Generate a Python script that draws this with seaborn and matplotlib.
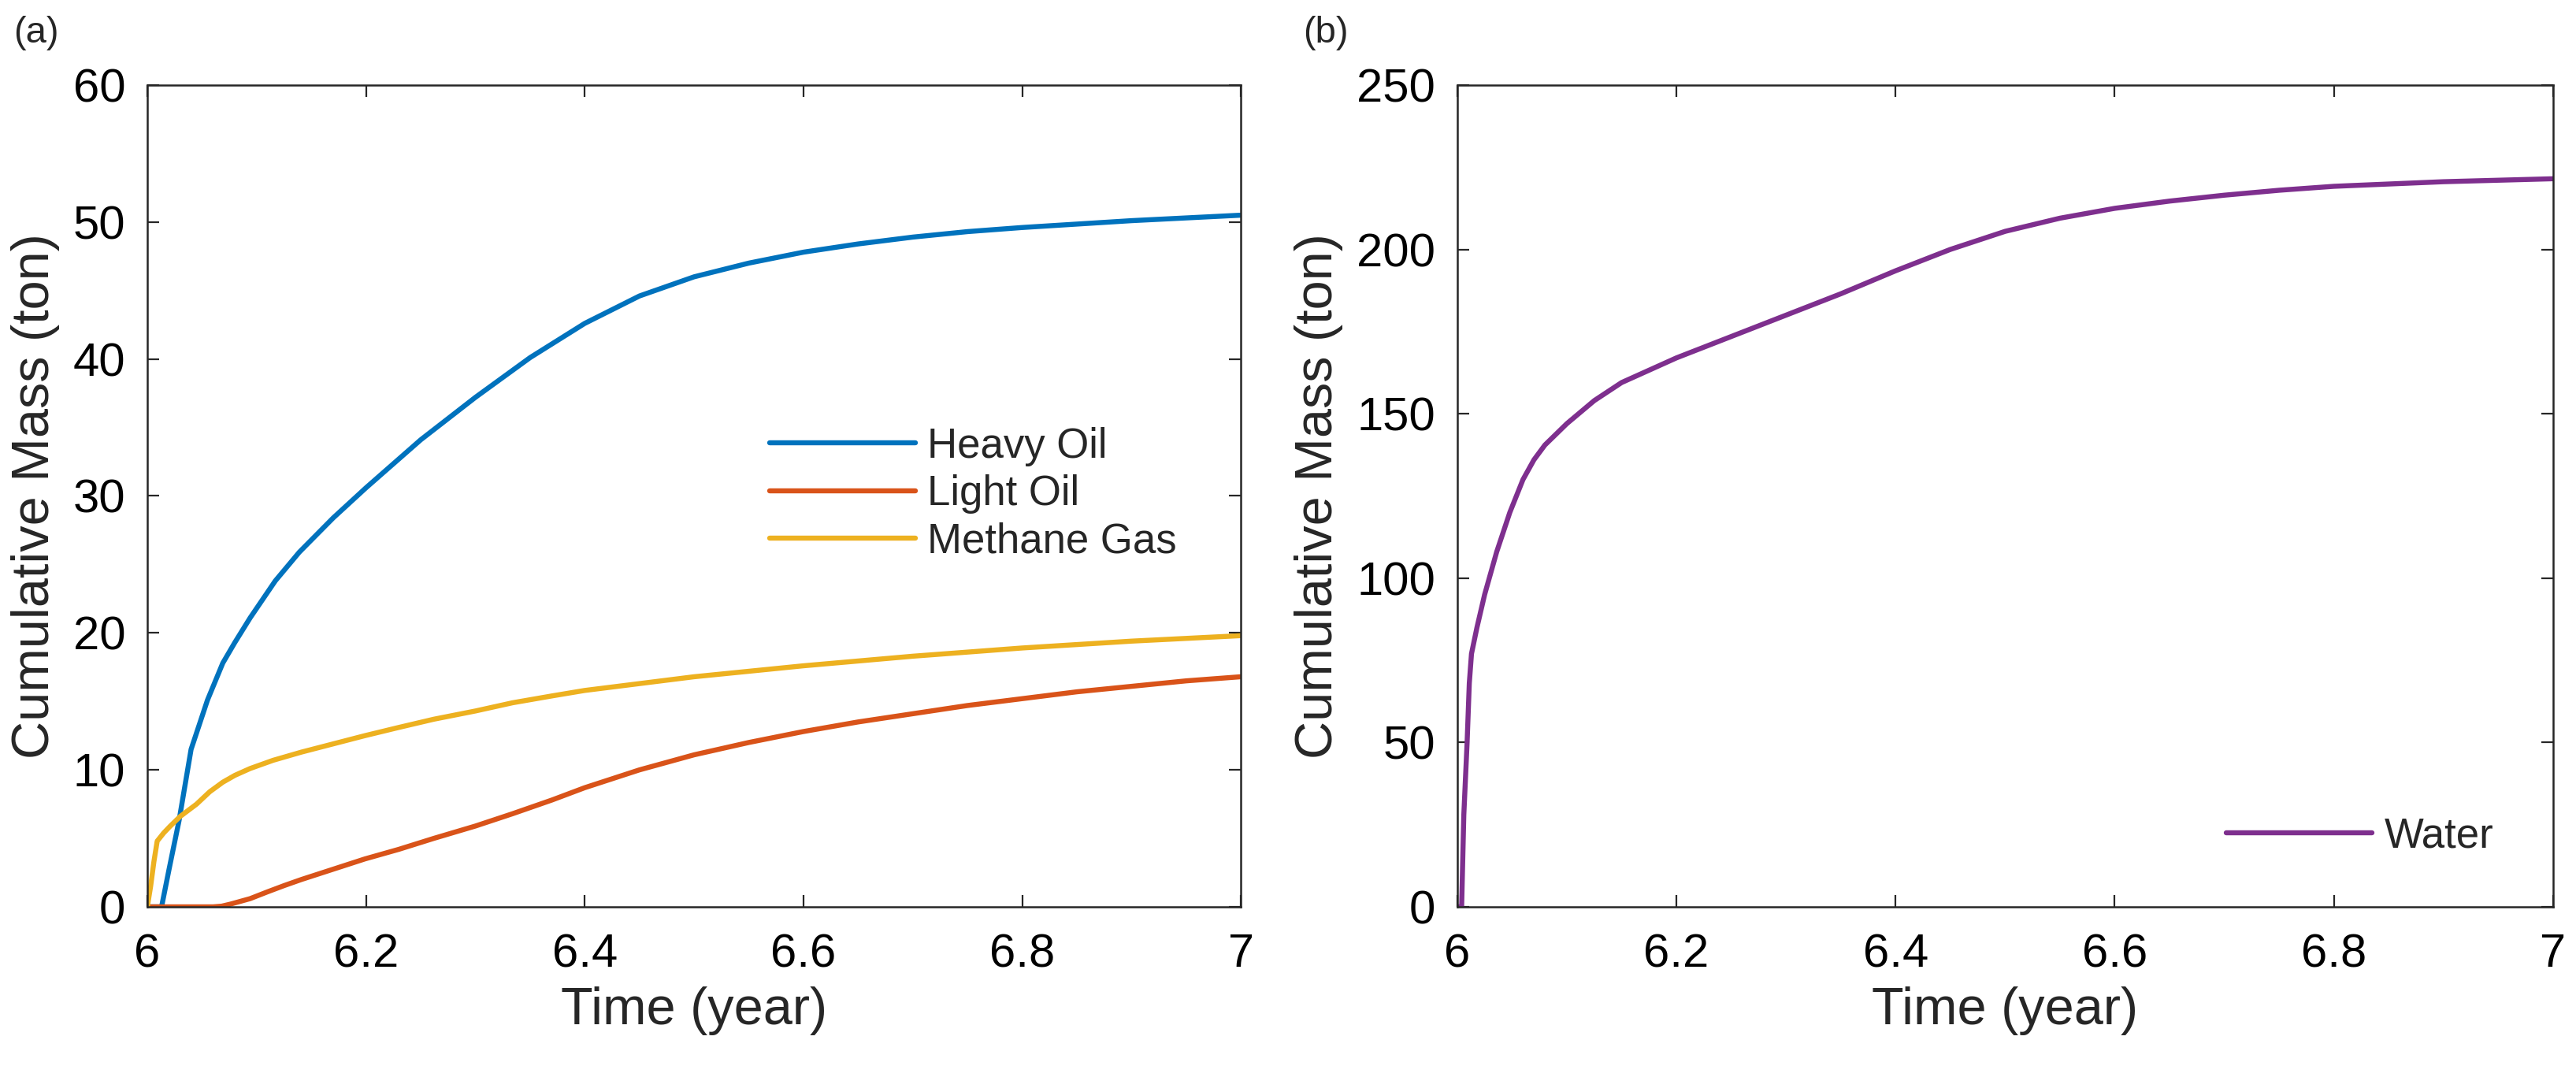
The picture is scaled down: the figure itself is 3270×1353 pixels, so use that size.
import numpy as np
import pandas as pd
import seaborn as sns
import matplotlib
matplotlib.use("Agg")
import matplotlib.pyplot as plt

# ---- data (time in years, cumulative mass in tons) ----
heavy_t = [6.0, 6.013, 6.02, 6.029, 6.04, 6.055, 6.069, 6.08, 6.094, 6.117, 6.139, 6.17, 6.2,
           6.25, 6.3, 6.35, 6.4, 6.45, 6.5, 6.55, 6.6, 6.65, 6.7, 6.75, 6.8, 6.9, 7.0]
heavy_m = [0.0, 0.0, 2.8, 6.3, 11.5, 15.1, 17.8, 19.3, 21.1, 23.8, 25.9, 28.4, 30.6,
           34.1, 37.2, 40.1, 42.6, 44.6, 46.0, 47.0, 47.8, 48.4, 48.9, 49.3, 49.6, 50.1, 50.5]

light_t = [6.0, 6.06, 6.068, 6.076, 6.085, 6.094, 6.11, 6.125, 6.141, 6.17, 6.199, 6.23,
           6.262, 6.3, 6.334, 6.37, 6.4, 6.45, 6.5, 6.55, 6.6, 6.65, 6.7, 6.75, 6.8,
           6.85, 6.9, 6.95, 7.0]
light_m = [0.0, 0.0, 0.05, 0.2, 0.4, 0.6, 1.1, 1.55, 2.0, 2.75, 3.5, 4.2,
           5.0, 5.9, 6.8, 7.8, 8.7, 10.0, 11.1, 12.0, 12.8, 13.5, 14.1, 14.7, 15.2,
           15.7, 16.1, 16.5, 16.8]

methane_t = [6.0, 6.003, 6.006, 6.009, 6.015, 6.021, 6.03, 6.045, 6.057, 6.069, 6.08, 6.094,
             6.115, 6.141, 6.17, 6.199, 6.23, 6.262, 6.3, 6.334, 6.37, 6.4, 6.45, 6.5,
             6.55, 6.6, 6.65, 6.7, 6.75, 6.8, 6.85, 6.9, 6.95, 7.0]
methane_m = [0.0, 1.5, 3.3, 4.8, 5.4, 5.9, 6.6, 7.5, 8.4, 9.1, 9.6, 10.1,
             10.7, 11.3, 11.9, 12.5, 13.1, 13.7, 14.3, 14.9, 15.4, 15.8, 16.3, 16.8,
             17.2, 17.6, 17.95, 18.3, 18.6, 18.9, 19.15, 19.4, 19.6, 19.8]

water_t = [6.0, 6.004, 6.006, 6.009, 6.011, 6.013, 6.018, 6.025, 6.036, 6.048, 6.06, 6.07,
           6.08, 6.1, 6.125, 6.15, 6.2, 6.25, 6.3, 6.35, 6.4, 6.45, 6.5, 6.55, 6.6, 6.65,
           6.7, 6.75, 6.8, 6.9, 7.0]
water_m = [0.0, 0.0, 28.0, 50.0, 68.0, 77.0, 85.0, 95.0, 108.0, 120.0, 130.0, 136.0,
           140.5, 147.0, 154.0, 159.5, 167.0, 173.5, 180.0, 186.5, 193.5, 200.0, 205.5,
           209.5, 212.5, 214.7, 216.5, 218.0, 219.2, 220.6, 221.5]

oil_names = ["Heavy Oil", "Light Oil", "Methane Gas"]
oil_colors = ["#0072BD", "#D95319", "#EDB120"]
water_color = "#7E2F8E"

oil_df = pd.concat([
    pd.DataFrame({"Time": heavy_t, "Mass": heavy_m, "series": "Heavy Oil"}),
    pd.DataFrame({"Time": light_t, "Mass": light_m, "series": "Light Oil"}),
    pd.DataFrame({"Time": methane_t, "Mass": methane_m, "series": "Methane Gas"}),
], ignore_index=True)
water_df = pd.DataFrame({"Time": water_t, "Mass": water_m, "series": "Water"})

sns.set_style("ticks")
plt.rcParams["font.family"] = ["Liberation Sans", "DejaVu Sans"]

axis_col = "#262626"
tick_fs = 43
label_fs = 48
legend_fs = 38
lw = 4.6

fig = plt.figure(figsize=(32.7, 13.53), dpi=100)
ax_a = fig.add_axes([0.0572, 0.1493, 0.4245, 0.7709])
ax_b = fig.add_axes([0.5657, 0.1493, 0.4254, 0.7709])

sns.lineplot(data=oil_df, x="Time", y="Mass", hue="series", hue_order=oil_names,
             palette=oil_colors, estimator=None, sort=False, linewidth=lw, ax=ax_a)
sns.lineplot(data=water_df, x="Time", y="Mass", hue="series", palette=[water_color],
             estimator=None, sort=False, linewidth=lw, ax=ax_b)

ax_a.set_ylim(0, 60)
ax_a.set_yticks([0, 10, 20, 30, 40, 50, 60])
ax_b.set_ylim(0, 250)
ax_b.set_yticks([0, 50, 100, 150, 200, 250])

for ax in (ax_a, ax_b):
    ax.set_xlim(6, 7)
    ax.set_xticks([6, 6.2, 6.4, 6.6, 6.8, 7])
    ax.set_xticklabels(["6", "6.2", "6.4", "6.6", "6.8", "7"])
    ax.set_xlabel("Time (year)", fontsize=label_fs, labelpad=9)
    ax.set_ylabel("Cumulative Mass (ton)", fontsize=label_fs, labelpad=12)
    ax.tick_params(axis="both", direction="in", length=11, width=1.6, color=axis_col,
                   top=True, right=True, labelsize=tick_fs, labelcolor="#000000")
    ax.tick_params(axis="x", pad=24)
    ax.tick_params(axis="y", pad=20)
    for sp in ax.spines.values():
        sp.set_visible(True)
        sp.set_color(axis_col)
        sp.set_linewidth(1.8)

leg_a = ax_a.legend(loc="center left", bbox_to_anchor=(0.569, 0.502), frameon=False,
                    fontsize=legend_fs, handlelength=3.5, handletextpad=0.3,
                    labelspacing=0.2, borderpad=0, borderaxespad=0)
leg_b = ax_b.legend(loc="center left", bbox_to_anchor=(0.702, 0.086), frameon=False,
                    fontsize=legend_fs, handlelength=3.5, handletextpad=0.3,
                    borderpad=0, borderaxespad=0)
for leg in (leg_a, leg_b):
    for h in leg.get_lines():
        h.set_linewidth(lw)

fig.text(0.0052, 0.969, "(a)", fontsize=34, va="center", ha="left")
fig.text(0.506, 0.969, "(b)", fontsize=34, va="center", ha="left")

fig.savefig("out.png", dpi=100, facecolor="white")
